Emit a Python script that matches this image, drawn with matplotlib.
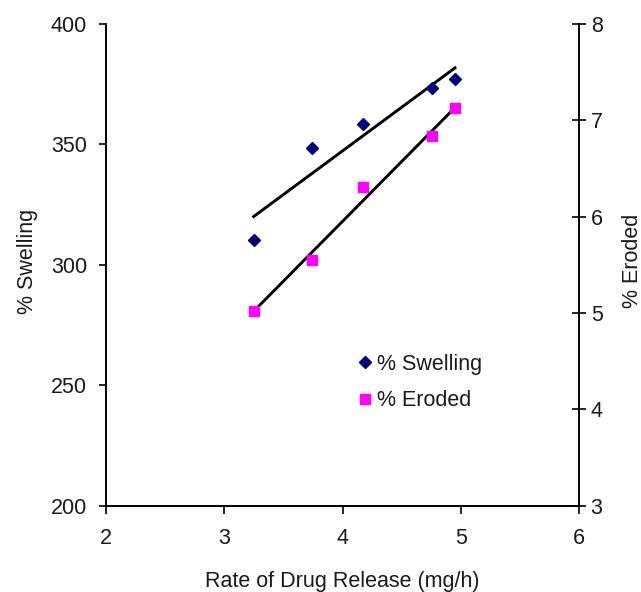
import numpy as np
import matplotlib
matplotlib.use("Agg")
import matplotlib.pyplot as plt
from matplotlib.lines import Line2D

plt.rcParams['font.family'] = ['Liberation Sans', 'DejaVu Sans']

# Data
rate = [3.25, 3.745, 4.175, 4.76, 4.95]          # Rate of Drug Release (mg/h)
swelling = [310.5, 348.7, 358.4, 373.5, 377.3]  # % Swelling (left axis)
eroded = [5.02, 5.55, 6.31, 6.84, 7.13]         # % Eroded (right axis)

x_ticks = [2, 3, 4, 5, 6]
left_ticks = [200, 250, 300, 350, 400]
right_ticks = [3, 4, 5, 6, 7, 8]

W, H = 641, 592
fig = plt.figure(figsize=(W / 100, H / 100), dpi=100)
fig.patch.set_facecolor('white')

L, R, T, B = 105.7, 579.3, 24.0, 505.7
ax = fig.add_axes([L / W, 1 - B / H, (R - L) / W, (B - T) / H])
ax2 = ax.twinx()

FS = 15.5
TC = '#1a1a1a'

xs = np.array(rate)
# Swelling points and linear trendline
ax.plot(rate, swelling, linestyle='none', marker='D', markersize=5.8,
        color='#000080', zorder=3)
p1 = np.polyfit(xs, swelling, 1)
xl = np.array([xs.min(), xs.max()])
ax.plot(xl, np.polyval(p1, xl), color='black', lw=2.1, zorder=2)

# Eroded points and linear trendline
ax2.plot(rate, eroded, linestyle='none', marker='s', markersize=7.4,
         color='#FF00FF', zorder=3)
p2 = np.polyfit(xs, eroded, 1)
ax2.plot(xl, np.polyval(p2, xl), color='black', lw=2.1, zorder=2)

ax.set_xlim(2, 6)
ax.set_ylim(200, 400)
ax2.set_ylim(3, 8)
ax.set_xticks(x_ticks)
ax.set_yticks(left_ticks)
ax2.set_yticks(right_ticks)
ax.set_xticklabels([str(v) for v in x_ticks])
ax.set_yticklabels([str(v) for v in left_ticks])
ax2.set_yticklabels([str(v) for v in right_ticks])

for a in (ax, ax2):
    a.spines['top'].set_visible(False)
    for s in ('left', 'right', 'bottom'):
        a.spines[s].set_linewidth(1.2)
        a.spines[s].set_color('black')
    a.set_facecolor('none')

ax.tick_params(axis='y', direction='out', length=5.3, width=1.2,
               pad=8.0, labelsize=FS, labelcolor=TC)
ax.tick_params(axis='x', direction='out', length=5.8, width=1.2,
               pad=10.0, labelsize=FS, labelcolor=TC)
ax2.tick_params(axis='y', direction='inout', length=9.4, width=1.2,
                pad=3.5, labelsize=FS, labelcolor=TC)

fig.text(27 / W, 1 - 261 / H, '% Swelling', rotation=90, ha='center',
         va='center', fontsize=FS, color=TC)
fig.text(632 / W, 1 - 261 / H, '% Eroded', rotation=90, ha='center',
         va='center', fontsize=FS, color=TC)
fig.text(342.5 / W, 1 - 587 / H, 'Rate of Drug Release (mg/h)',
         ha='center', va='baseline', fontsize=FS, color=TC)

handles = [
    Line2D([], [], linestyle='none', marker='D', markersize=5.8, color='#000080'),
    Line2D([], [], linestyle='none', marker='s', markersize=7.4, color='#FF00FF'),
]
leg = ax2.legend(handles, ['% Swelling', '% Eroded'], loc='upper left',
                 bbox_to_anchor=(358.5 / W, 1 - 354 / H),
                 bbox_transform=fig.transFigure, frameon=False,
                 fontsize=FS, handlelength=0.6, handletextpad=0.25,
                 borderpad=0, borderaxespad=0, labelspacing=0.7)
for t in leg.get_texts():
    t.set_color(TC)

fig.savefig('out.png', dpi=100, facecolor='white')
